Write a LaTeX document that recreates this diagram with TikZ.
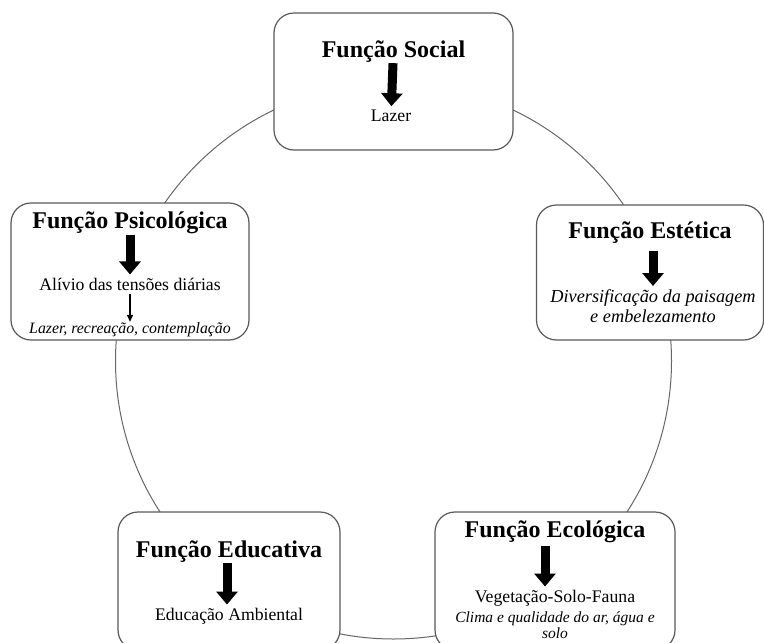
\documentclass[tikz,border=0pt]{standalone}
\usepackage{fontspec}
\setmainfont{Liberation Serif}
\usetikzlibrary{arrows.meta, positioning}
\tikzset{card/.style={rectangle,draw=black!65,line width=1.2pt,fill=white,rounded corners=20pt,inner sep=0pt},
         heading/.style={font=\fontsize{24}{26}\selectfont\bfseries,inner sep=0pt,anchor=base},
         item/.style={font=\fontsize{17.7}{20}\selectfont,inner sep=0pt,anchor=base,align=center},
         remark/.style 2 args={font=\fontsize{#1}{#2}\selectfont\itshape,inner sep=0pt,align=center},
         ring/.style={draw=black!60,line width=1pt},
         bigarrow/.style={-{Triangle[width=21pt,length=13pt]},line width=9pt,shorten >=3pt,shorten <=1pt},
         thinarrow/.style={-{Triangle[width=6pt,length=7pt]},line width=1.2pt,shorten <=4pt}}

\begin{document}
\begin{tikzpicture}[x=1pt,y=-1pt]
    \useasboundingbox (0,0) rectangle (764,643);
    \clip (0,0) rectangle (764,643);
    % ring behind the cards
    \draw[ring] (393.5,361) circle (278);
    % cards
    \node (soc) [card, minimum width=239pt, minimum height=137pt] at (393.5,81.5) {};
    \node (psi) [card, minimum width=238pt, minimum height=137pt] at (130,271.5) {};
    \node (est) [card, minimum width=227pt, minimum height=135pt] at (650,272.5) {};
    \node (edu) [card, minimum width=222pt, minimum height=138pt] at (229,581) {};
    \node (eco) [card, minimum width=240pt, minimum height=138pt] at (555,581) {};
    % Função Social
    \node (socH) [heading] at (393.5,57) {Função Social};
    \node (socT) [item] at (391,121) {Lazer};
    \draw[bigarrow] (socH) -- (socT);
    % Função Psicológica
    \node (psiH) [heading] at (130,228) {Função Psicológica};
    \node (psiT) [item] at (130,290) {Alívio das tensões diárias};
    \node (psiN) [remark={15.8}{18}, anchor=base] at (130,333) {Lazer, recreação, contemplação};
    \draw[bigarrow] (psiH) -- (psiT);
    \draw[thinarrow] (psiT) -- (psiN);
    % Função Estética
    \node (estH) [heading] at (650,238) {Função Estética};
    \node (estN) [remark={18.3}{20}, anchor=north] at (653,289) {Diversificação da paisagem\\e embelezamento};
    \draw[bigarrow, shorten <=8pt] ([xshift=3pt]estH.south) -- (estN.north);
    % Função Educativa
    \node (eduH) [heading] at (229,557) {Função Educativa};
    \node (eduT) [item] at (229,620) {Educação Ambiental};
    \draw[bigarrow] ([xshift=-2pt]eduH.south) -- ([xshift=-2pt]eduT.north);
    % Função Ecológica
    \node (ecoH) [heading] at (555,537) {Função Ecológica};
    \node (ecoT) [item] at (555,602) {Vegetação-Solo-Fauna};
    \node (ecoN) [remark={15.5}{15.5}, anchor=north, below=6pt of ecoT] {Clima e qualidade do ar, água e\\solo};
    \draw[bigarrow, shorten <=3pt] ([xshift=-10pt]ecoH.south) -- ([xshift=-10pt]ecoT.north);
  \end{tikzpicture}
\end{document}
